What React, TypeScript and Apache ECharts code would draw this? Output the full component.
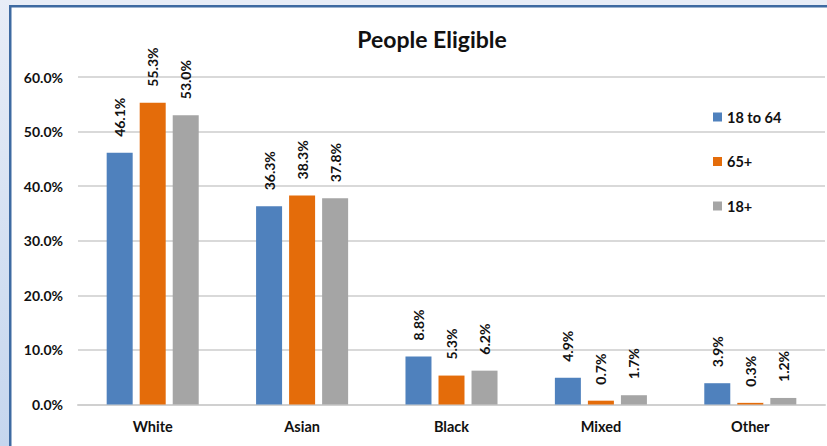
import React, { useEffect, useRef } from "react";
import * as echarts from "echarts";

const categories = ["White", "Asian", "Black", "Mixed", "Other"];
const seriesNames = ["18 to 64", "65+", "18+"];
const age18to64 = [46.1, 36.3, 8.8, 4.9, 3.9];
const age65plus = [55.3, 38.3, 5.3, 0.7, 0.3];
const age18plus = [53.0, 37.8, 6.2, 1.7, 1.2];
const colors = ["#4f81bd", "#e46c0a", "#a5a5a5"];

const FONT = "Lato, 'Liberation Sans', sans-serif";

export default function App() {
  const ref = useRef<HTMLDivElement>(null);
  useEffect(() => {
    document.body.style.margin = "0";
    const chart = echarts.init(ref.current!, null, { renderer: "svg" });
    const dataSets = [age18to64, age65plus, age18plus];
    chart.setOption({
      animation: false,
      backgroundColor: "#ffffff",
      textStyle: { fontFamily: FONT },
      title: {
        text: "People Eligible",
        left: 427,
        textAlign: "center",
        top: 22,
        textStyle: { fontFamily: FONT, fontSize: 23, fontWeight: "bold", color: "#111" },
      },
      graphic: [
        {
          type: "rect",
          shape: { x: 0, y: 0, width: 827, height: 5 },
          style: { fill: "#e8edf7" },
          silent: true,
          z: -10,
        },
        {
          type: "rect",
          shape: { x: 0, y: 0, width: 9, height: 446 },
          style: {
            fill: new echarts.graphic.LinearGradient(0, 0, 0, 1, [
              { offset: 0, color: "#e8edf7" },
              { offset: 1, color: "#c5d6ee" },
            ]),
          },
          silent: true,
          z: -10,
        },
        {
          type: "rect",
          shape: { x: 9, y: 5, width: 818, height: 2.5 },
          style: { fill: "#3e6aa1" },
          silent: true,
        },
        {
          type: "rect",
          shape: { x: 9, y: 5, width: 2.5, height: 441 },
          style: { fill: "#3e6aa1" },
          silent: true,
        },
      ],
      legend: {
        orient: "vertical",
        left: 708,
        top: 104,
        itemWidth: 9,
        itemHeight: 9,
        itemGap: 28.5,
        icon: "rect",
        data: seriesNames,
        textStyle: { fontFamily: FONT, fontSize: 14.5, fontWeight: "bold", color: "#111", lineHeight: 16 },
      },
      grid: { left: 78, right: 2, top: 77, bottom: 41.5, containLabel: false },
      xAxis: {
        type: "category",
        data: categories,
        axisTick: { show: false },
        axisLine: { lineStyle: { color: "#d0d0d0", width: 2 } },
        axisLabel: { margin: 14, fontFamily: FONT, fontSize: 14.5, fontWeight: "bold", color: "#111" },
      },
      yAxis: {
        type: "value",
        min: 0,
        max: 60,
        interval: 10,
        axisLine: { show: false },
        axisTick: { show: false },
        splitLine: { lineStyle: { color: "#d9d9d9", width: 2 } },
        axisLabel: {
          margin: 15,
          fontFamily: FONT,
          fontSize: 14,
          fontWeight: "bold",
          color: "#111",
          formatter: (v: number) => v.toFixed(1) + "%",
        },
      },
      series: seriesNames.map((name, i) => ({
        name,
        type: "bar",
        data: dataSets[i],
        barWidth: 26,
        barGap: "27%",
        itemStyle: { color: colors[i] },
        label: {
          show: true,
          position: "top",
          distance: 16,
          rotate: 90,
          align: "left",
          verticalAlign: "middle",
          fontFamily: FONT,
          fontSize: 14,
          fontWeight: "bold",
          color: "#111",
          formatter: (p: any) => p.value.toFixed(1) + "%",
        },
      })),
    });
    return () => chart.dispose();
  }, []);
  return <div ref={ref} style={{ width: 827, height: 446, position: "absolute", left: 0, top: 0 }} />;
}
